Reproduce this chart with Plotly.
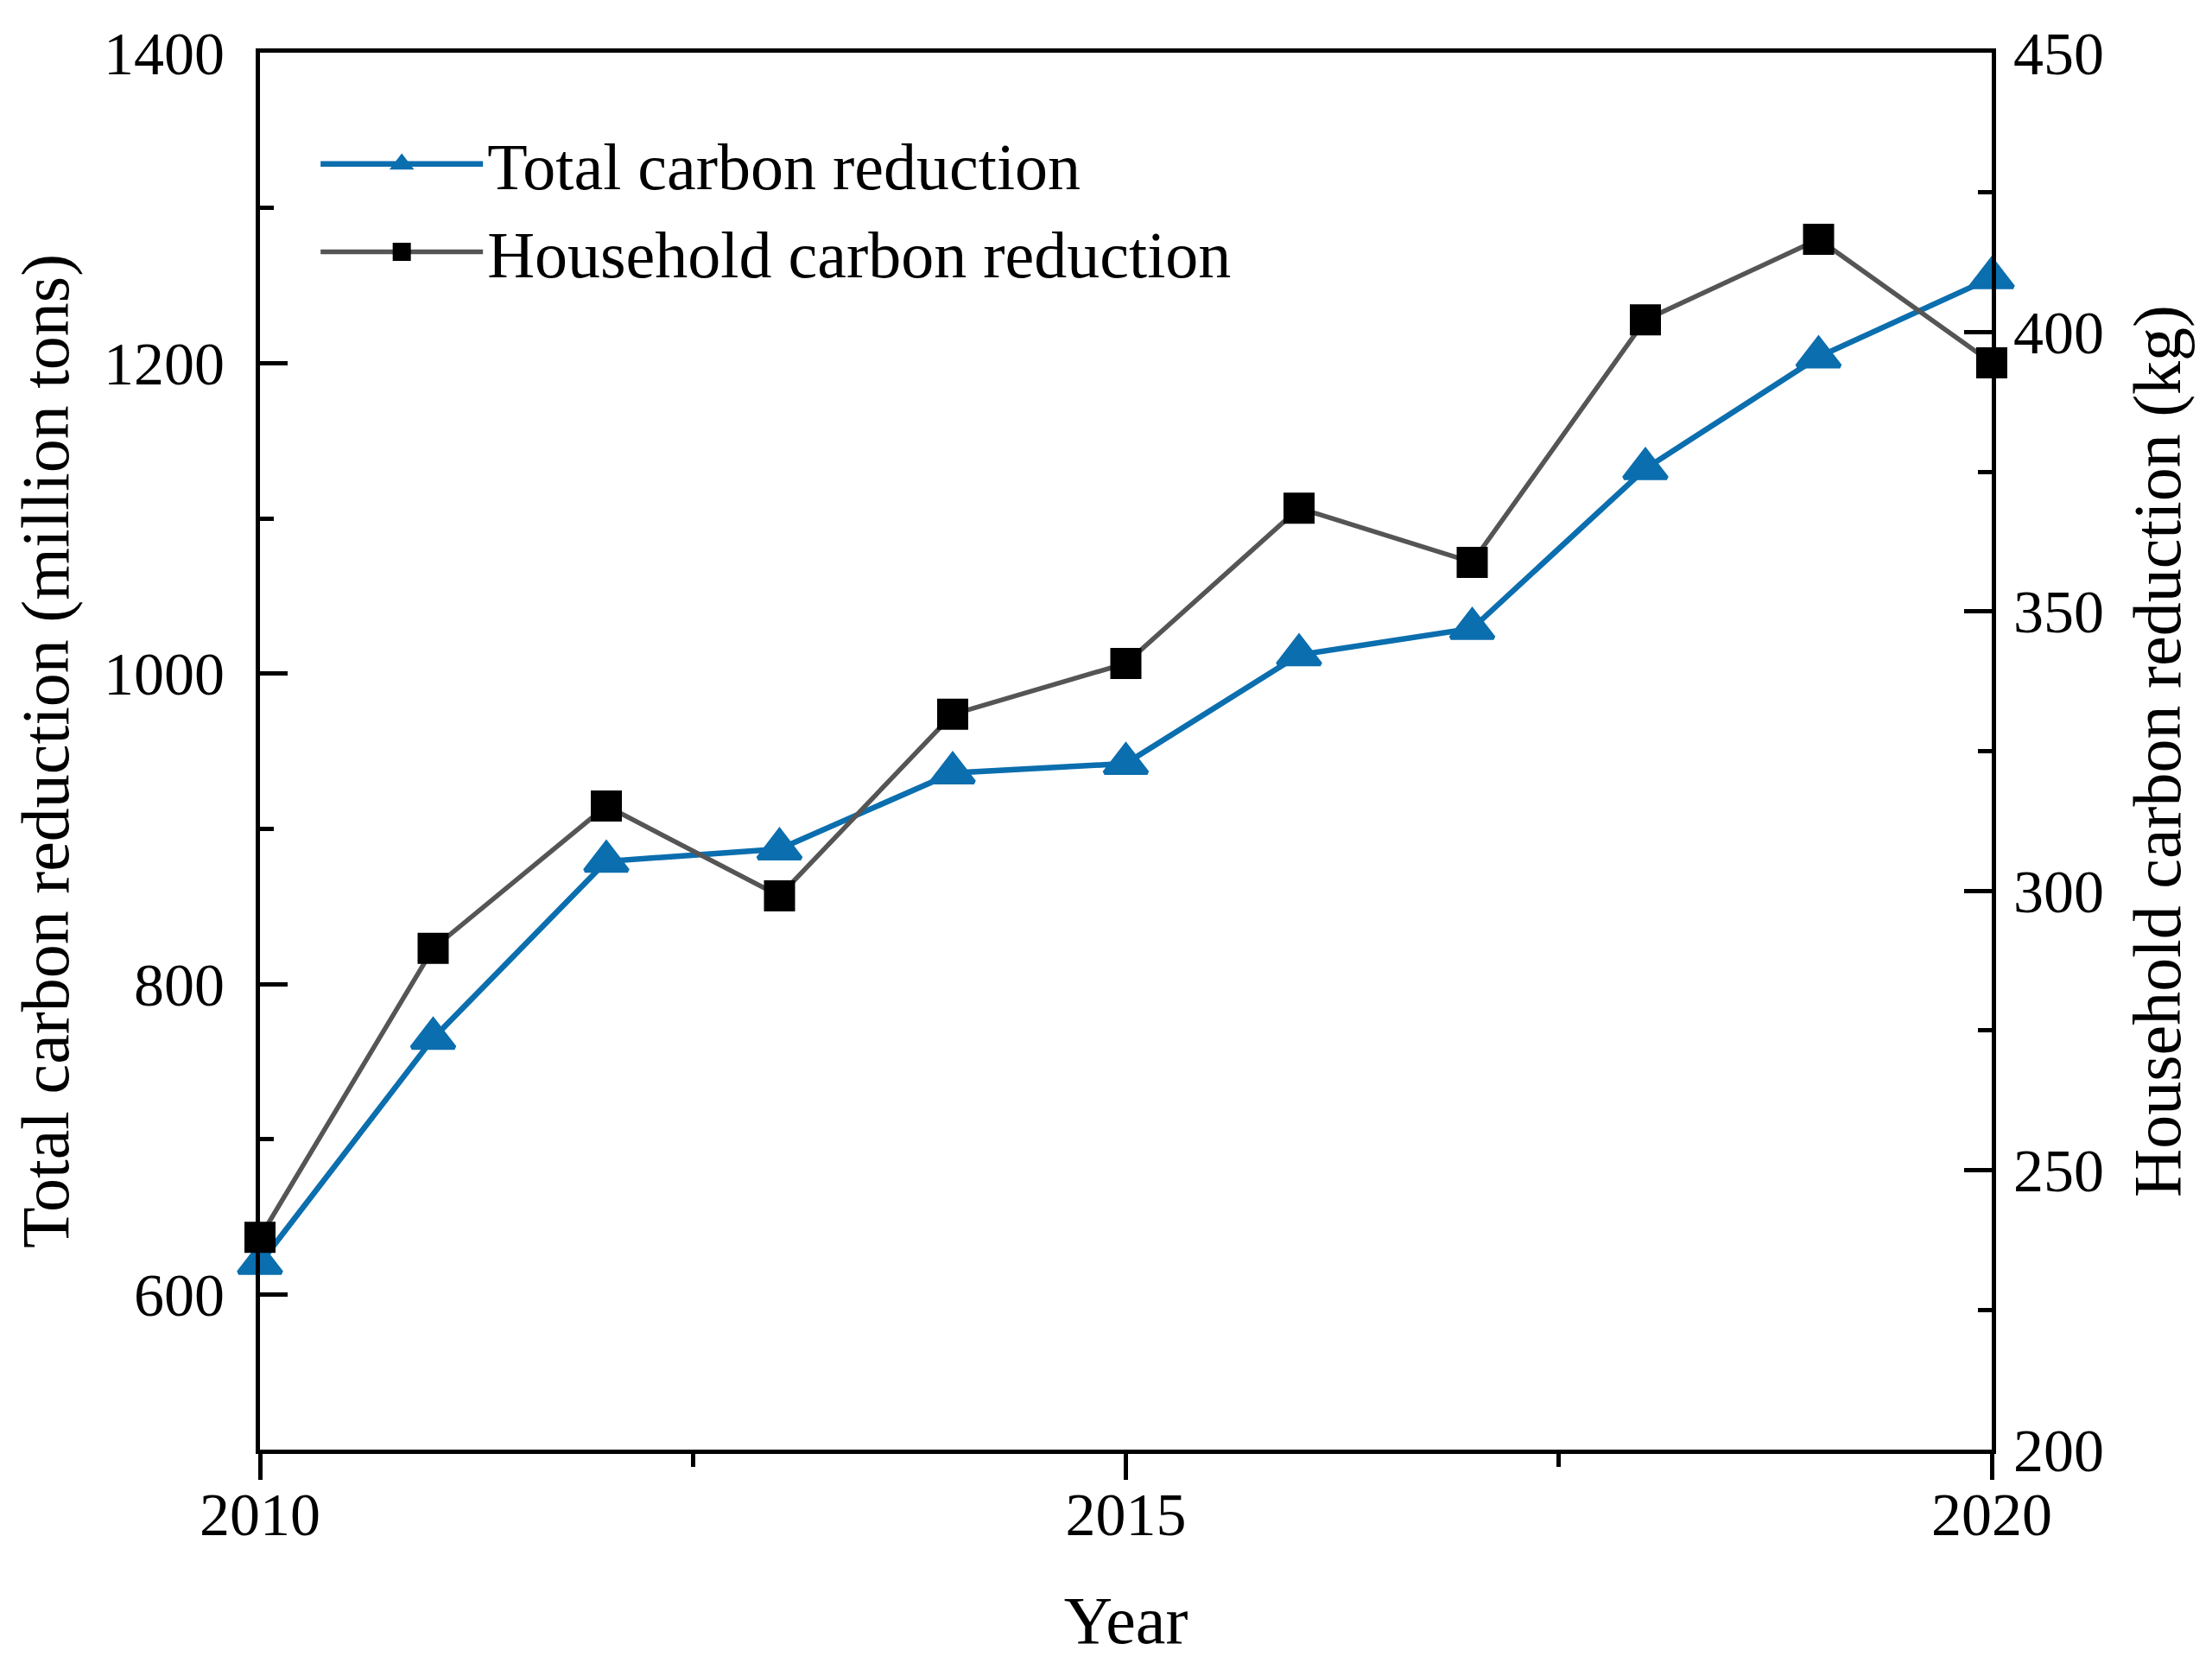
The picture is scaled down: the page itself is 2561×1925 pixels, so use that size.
import plotly.graph_objects as go

years = [2010, 2011, 2012, 2013, 2014, 2015, 2016, 2017, 2018, 2019, 2020]
total_reduction = [620, 765, 879, 887, 936, 942, 1012, 1029, 1132, 1204, 1255]
household_reduction = [238, 289.7, 315.2, 299.1, 331.6, 340.7, 368.5, 358.8, 402.2, 416.6, 394.5]

x_ticks = [2010, 2015, 2020]
left_ticks = [600, 800, 1000, 1200, 1400]
right_ticks = [200, 250, 300, 350, 400, 450]

FONT = "Liberation Serif, Times New Roman, serif"
BLUE = "#0B6EAE"

fig = go.Figure()
fig.add_trace(go.Scatter(
    x=years, y=total_reduction, name="Total carbon reduction",
    mode="lines+markers",
    line=dict(color=BLUE, width=6.5),
    marker=dict(symbol="triangle-up", size=43, color=BLUE,
                line=dict(color=BLUE, width=5)),
    yaxis="y", cliponaxis=False,
))
fig.add_trace(go.Scatter(
    x=years, y=household_reduction, name="Household carbon reduction",
    mode="lines+markers",
    line=dict(color="#555555", width=5.5),
    marker=dict(symbol="square", size=31, color="black",
                line=dict(color="black", width=5)),
    yaxis="y2", cliponaxis=False,
))

axis_common = dict(
    showgrid=False, zeroline=False, showline=True, linecolor="black", linewidth=5,
    tickcolor="black", tickwidth=5,
    tickfont=dict(family=FONT, size=70, color="black"),
    title_font=dict(family=FONT, size=78, color="black"),
)

fig.update_layout(
    width=2561, height=1925,
    margin=dict(l=293, r=263, t=53, b=255),
    paper_bgcolor="white", plot_bgcolor="white",
    font=dict(family=FONT, size=76, color="black"),
    showlegend=True,
    legend=dict(
        x=0.0325, y=0.955, xanchor="left", yanchor="top",
        bgcolor="rgba(0,0,0,0)", borderwidth=0,
        font=dict(family=FONT, size=76, color="black"),
        itemwidth=188, tracegroupgap=0,
    ),
    xaxis=dict(
        axis_common, range=[2010, 2020], tickvals=x_ticks,
        ticks="outside", ticklen=30, mirror=True,
        minor=dict(dtick=2.5, tick0=2010, ticks="outside", ticklen=15,
                   tickwidth=5, tickcolor="black"),
        title=dict(text="Year", standoff=58),
        ticklabelstandoff=-20,
    ),
    yaxis=dict(
        axis_common, range=[500, 1400], tickvals=left_ticks,
        ticks="inside", ticklen=32,
        minor=dict(dtick=100, tick0=500, ticks="inside", ticklen=16,
                   tickwidth=5, tickcolor="black"),
        title=dict(text="Total carbon reduction (million tons)", standoff=16),
        ticklabelstandoff=22,
    ),
    yaxis2=dict(
        axis_common, range=[200, 450], tickvals=right_ticks,
        overlaying="y", side="right",
        ticks="inside", ticklen=32,
        minor=dict(dtick=25, tick0=200, ticks="inside", ticklen=16,
                   tickwidth=5, tickcolor="black"),
        title=dict(text="Household carbon reduction (kg)", standoff=36),
        ticklabelstandoff=6,
    ),
)

fig.write_html("out.html")
